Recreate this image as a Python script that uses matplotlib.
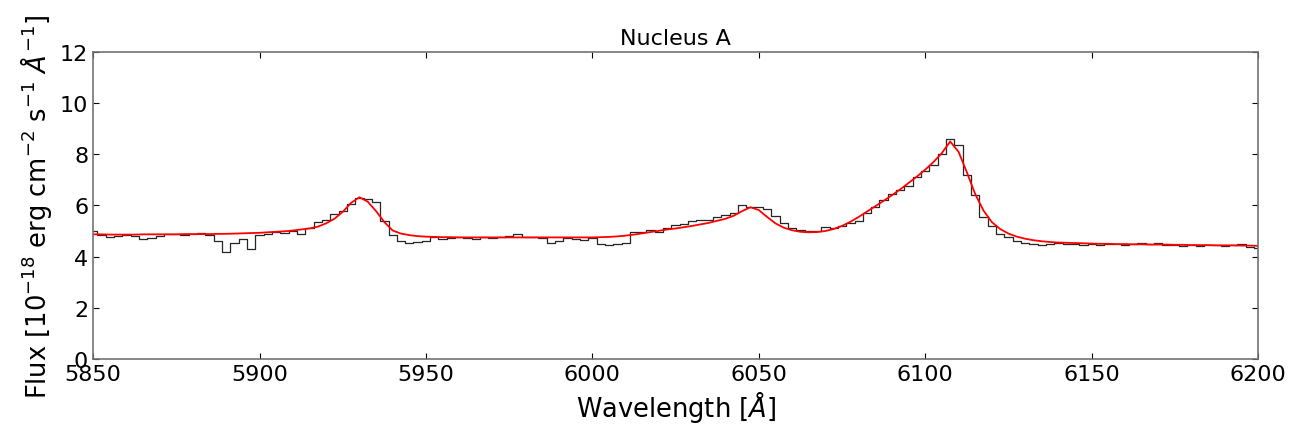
import matplotlib.pyplot as plt
import numpy as np

# wavelength grid (Angstrom), 2.5 A bins
wavelength = np.arange(5850, 6200.1, 2.5)

# observed spectrum, 1e-18 erg/cm2/s/A
flux_obs = [
    5.00, 4.85, 4.75, 4.82, 4.85, 4.80, 4.70, 4.72, 4.80, 4.90,
    4.88, 4.86, 4.88, 4.92, 4.85, 4.60, 4.18, 4.55, 4.70, 4.30,
    4.85, 4.90, 4.95, 4.92, 5.00, 4.88, 5.10, 5.35, 5.45, 5.65,
    5.80, 6.05, 6.30, 6.25, 6.15, 5.40, 4.85, 4.60, 4.55, 4.58,
    4.60, 4.75, 4.70, 4.72, 4.78, 4.74, 4.70, 4.76, 4.73, 4.77,
    4.80, 4.88, 4.78, 4.76, 4.72, 4.55, 4.62, 4.74, 4.70, 4.65,
    4.72, 4.50, 4.45, 4.48, 4.55, 4.95, 4.98, 5.05, 4.98, 5.10,
    5.22, 5.28, 5.38, 5.42, 5.45, 5.55, 5.62, 5.70, 6.02, 5.92,
    5.95, 5.88, 5.60, 5.30, 5.10, 5.05, 5.00, 5.02, 5.15, 5.10,
    5.20, 5.30, 5.40, 5.70, 5.95, 6.20, 6.45, 6.60, 6.75, 7.10,
    7.35, 7.60, 8.00, 8.60, 8.35, 7.20, 6.40, 5.55, 5.20, 4.90,
    4.75, 4.60, 4.55, 4.50, 4.45, 4.50, 4.55, 4.48, 4.50, 4.47,
    4.49, 4.46, 4.50, 4.48, 4.45, 4.50, 4.52, 4.48, 4.55, 4.45,
    4.47, 4.42, 4.45, 4.40, 4.44, 4.46, 4.42, 4.45, 4.48, 4.38,
    4.35,
]

# fitted model
flux_fit = [
    4.87, 4.87, 4.86, 4.86, 4.86, 4.86, 4.87, 4.87, 4.87, 4.87,
    4.87, 4.88, 4.88, 4.88, 4.88, 4.89, 4.89, 4.90, 4.91, 4.92,
    4.93, 4.95, 4.97, 4.99, 5.02, 5.06, 5.10, 5.17, 5.30, 5.48,
    5.75, 6.10, 6.32, 6.15, 5.78, 5.35, 5.02, 4.90, 4.84, 4.80,
    4.78, 4.77, 4.76, 4.76, 4.75, 4.75, 4.75, 4.75, 4.75, 4.75,
    4.75, 4.75, 4.75, 4.75, 4.75, 4.75, 4.75, 4.75, 4.75, 4.75,
    4.75, 4.76, 4.77, 4.79, 4.82, 4.86, 4.91, 4.96, 5.01, 5.06,
    5.10, 5.15, 5.20, 5.26, 5.32, 5.40, 5.48, 5.60, 5.78, 5.93,
    5.82, 5.55, 5.30, 5.13, 5.03, 4.97, 4.95, 4.96, 5.00, 5.08,
    5.20, 5.36, 5.55, 5.76, 5.97, 6.18, 6.40, 6.63, 6.88, 7.13,
    7.40, 7.70, 8.05, 8.50, 8.10, 7.30, 6.45, 5.80, 5.35, 5.08,
    4.90, 4.78, 4.70, 4.64, 4.60, 4.57, 4.55, 4.54, 4.53, 4.52,
    4.51, 4.50, 4.50, 4.49, 4.49, 4.48, 4.48, 4.47, 4.47, 4.47,
    4.46, 4.46, 4.45, 4.45, 4.45, 4.44, 4.44, 4.44, 4.43, 4.43,
    4.42,
]

plt.rcParams["mathtext.fontset"] = "dejavusans"
fig = plt.figure(figsize=(12.93, 4.31), dpi=100)
ax = fig.add_axes([0.072, 0.165, 0.901, 0.712])

ax.plot(wavelength, flux_obs, color="0.15", lw=0.9, drawstyle="steps-mid")
ax.plot(wavelength, flux_fit, color="red", lw=1.3)

ax.set_xlim(5850, 6200)
ax.set_ylim(0, 12)
ax.set_xticks(np.arange(5850, 6201, 50))
ax.set_yticks(np.arange(0, 13, 2))
ax.tick_params(direction="in", top=True, right=True, labelsize=16, length=4)
for s in ax.spines.values():
    s.set_color("0.45")
    s.set_linewidth(1.2)

ax.set_title("Nucleus A", fontsize=16)
ax.set_xlabel(r"Wavelength [$\AA$]", fontsize=18.5, labelpad=3)
ax.set_ylabel(r"Flux [$10^{-18}$ erg cm$^{-2}$ s$^{-1}$ $\AA^{-1}$]",
              fontsize=18.5, labelpad=4)

fig.savefig("out.png", dpi=100)
